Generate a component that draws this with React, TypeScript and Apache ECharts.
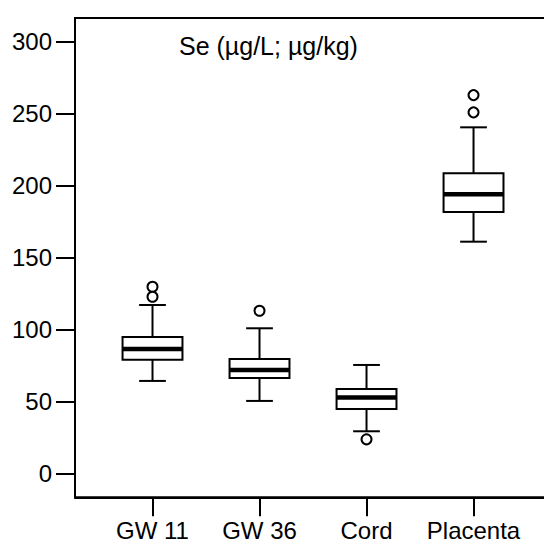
import React, { useEffect, useRef } from "react";
import * as echarts from "echarts";

const categories = ["GW 11", "GW 36", "Cord", "Placenta"];
const whiskerLow = [64.2, 50.3, 29.2, 161.0];
const q1 = [79.0, 66.2, 44.7, 181.6];
const median = [86.4, 71.8, 52.6, 193.9];
const q3 = [94.7, 79.4, 58.6, 208.5];
const whiskerHigh = [117.0, 100.8, 75.3, 240.5];
const outliers: [number, number][] = [
  [1, 129.7],
  [1, 122.7],
  [2, 113.0],
  [3, 23.6],
  [4, 262.9],
  [4, 250.9],
];
const yTicks = [0, 50, 100, 150, 200, 250, 300];
const xPositions = [1, 2, 3, 4];
const titleText = "Se (µg/L; µg/kg)";

export default function App() {
  const ref = useRef<HTMLDivElement>(null);
  useEffect(() => {
    if (!ref.current) return;
    const chart = echarts.init(ref.current, null, { renderer: "svg" });
    const boxData = categories.map((_, i) => [
      xPositions[i],
      whiskerLow[i],
      q1[i],
      median[i],
      q3[i],
      whiskerHigh[i],
    ]);
    const font = "Liberation Sans, Arial, sans-serif";
    chart.setOption({
      animation: false,
      backgroundColor: "#fff",
      title: {
        text: titleText,
        left: 174,
        top: 28,
        textStyle: { fontFamily: font, fontSize: 25, fontWeight: "normal", color: "#000" },
      },
      grid: {
        left: 75,
        top: 18,
        width: 476,
        height: 479.3,
        show: true,
        borderColor: "#000",
        borderWidth: 2,
        containLabel: false,
        outerBoundsMode: "none",
      },
      xAxis: {
        type: "value",
        min: 0.2757,
        max: 4.724,
        splitLine: { show: false },
        axisLine: { show: true, onZero: false, lineStyle: { color: "#000", width: 2 } },
        axisTick: { show: true, length: 19, lineStyle: { color: "#000", width: 2 }, customValues: xPositions },
        axisLabel: {
          customValues: xPositions,
          margin: 21,
          lineHeight: 24,
          fontFamily: font,
          fontSize: 24,
          color: "#000",
          formatter: (v: number) => categories[Math.round(v) - 1] ?? "",
        },
      },
      yAxis: {
        type: "value",
        min: -16.7,
        max: 316.5,
        splitLine: { show: false },
        axisLine: { show: true, onZero: false, lineStyle: { color: "#000", width: 2 } },
        axisTick: { show: true, length: 19, lineStyle: { color: "#000", width: 2 }, customValues: yTicks },
        axisLabel: {
          customValues: yTicks,
          margin: 23,
          fontFamily: font,
          fontSize: 24,
          color: "#000",
        },
      },
      series: [
        {
          type: "custom",
          data: boxData,
          encode: { x: 0, y: [1, 2, 3, 4, 5] },
          renderItem: (params: any, api: any) => {
            const x = api.value(0);
            const lo = api.coord([x, api.value(1)]);
            const b1 = api.coord([x, api.value(2)]);
            const md = api.coord([x, api.value(3)]);
            const b3 = api.coord([x, api.value(4)]);
            const hi = api.coord([x, api.value(5)]);
            const boxW = api.size([0.56, 0])[0];
            const capW = api.size([0.25, 0])[0];
            const cx = lo[0];
            const lineStyle = { stroke: "#000", lineWidth: 2 };
            return {
              type: "group",
              children: [
                { type: "line", shape: { x1: cx, y1: lo[1], x2: cx, y2: b1[1] }, style: lineStyle },
                { type: "line", shape: { x1: cx, y1: b3[1], x2: cx, y2: hi[1] }, style: lineStyle },
                { type: "line", shape: { x1: cx - capW / 2, y1: lo[1], x2: cx + capW / 2, y2: lo[1] }, style: lineStyle },
                { type: "line", shape: { x1: cx - capW / 2, y1: hi[1], x2: cx + capW / 2, y2: hi[1] }, style: lineStyle },
                {
                  type: "rect",
                  shape: { x: cx - boxW / 2, y: b3[1], width: boxW, height: b1[1] - b3[1] },
                  style: { fill: "#fff", stroke: "#000", lineWidth: 2 },
                },
                {
                  type: "line",
                  shape: { x1: cx - boxW / 2, y1: md[1], x2: cx + boxW / 2, y2: md[1] },
                  style: { stroke: "#000", lineWidth: 4.5 },
                },
              ],
            };
          },
        },
        {
          type: "scatter",
          data: outliers,
          symbol: "circle",
          symbolSize: 10,
          itemStyle: { color: "#fff", borderColor: "#000", borderWidth: 2, opacity: 1 },
        },
      ],
    });
    return () => chart.dispose();
  }, []);
  return (
    <div
      ref={ref}
      style={{ position: "fixed", left: 0, top: 0, width: 544, height: 544, background: "#fff" }}
    />
  );
}
